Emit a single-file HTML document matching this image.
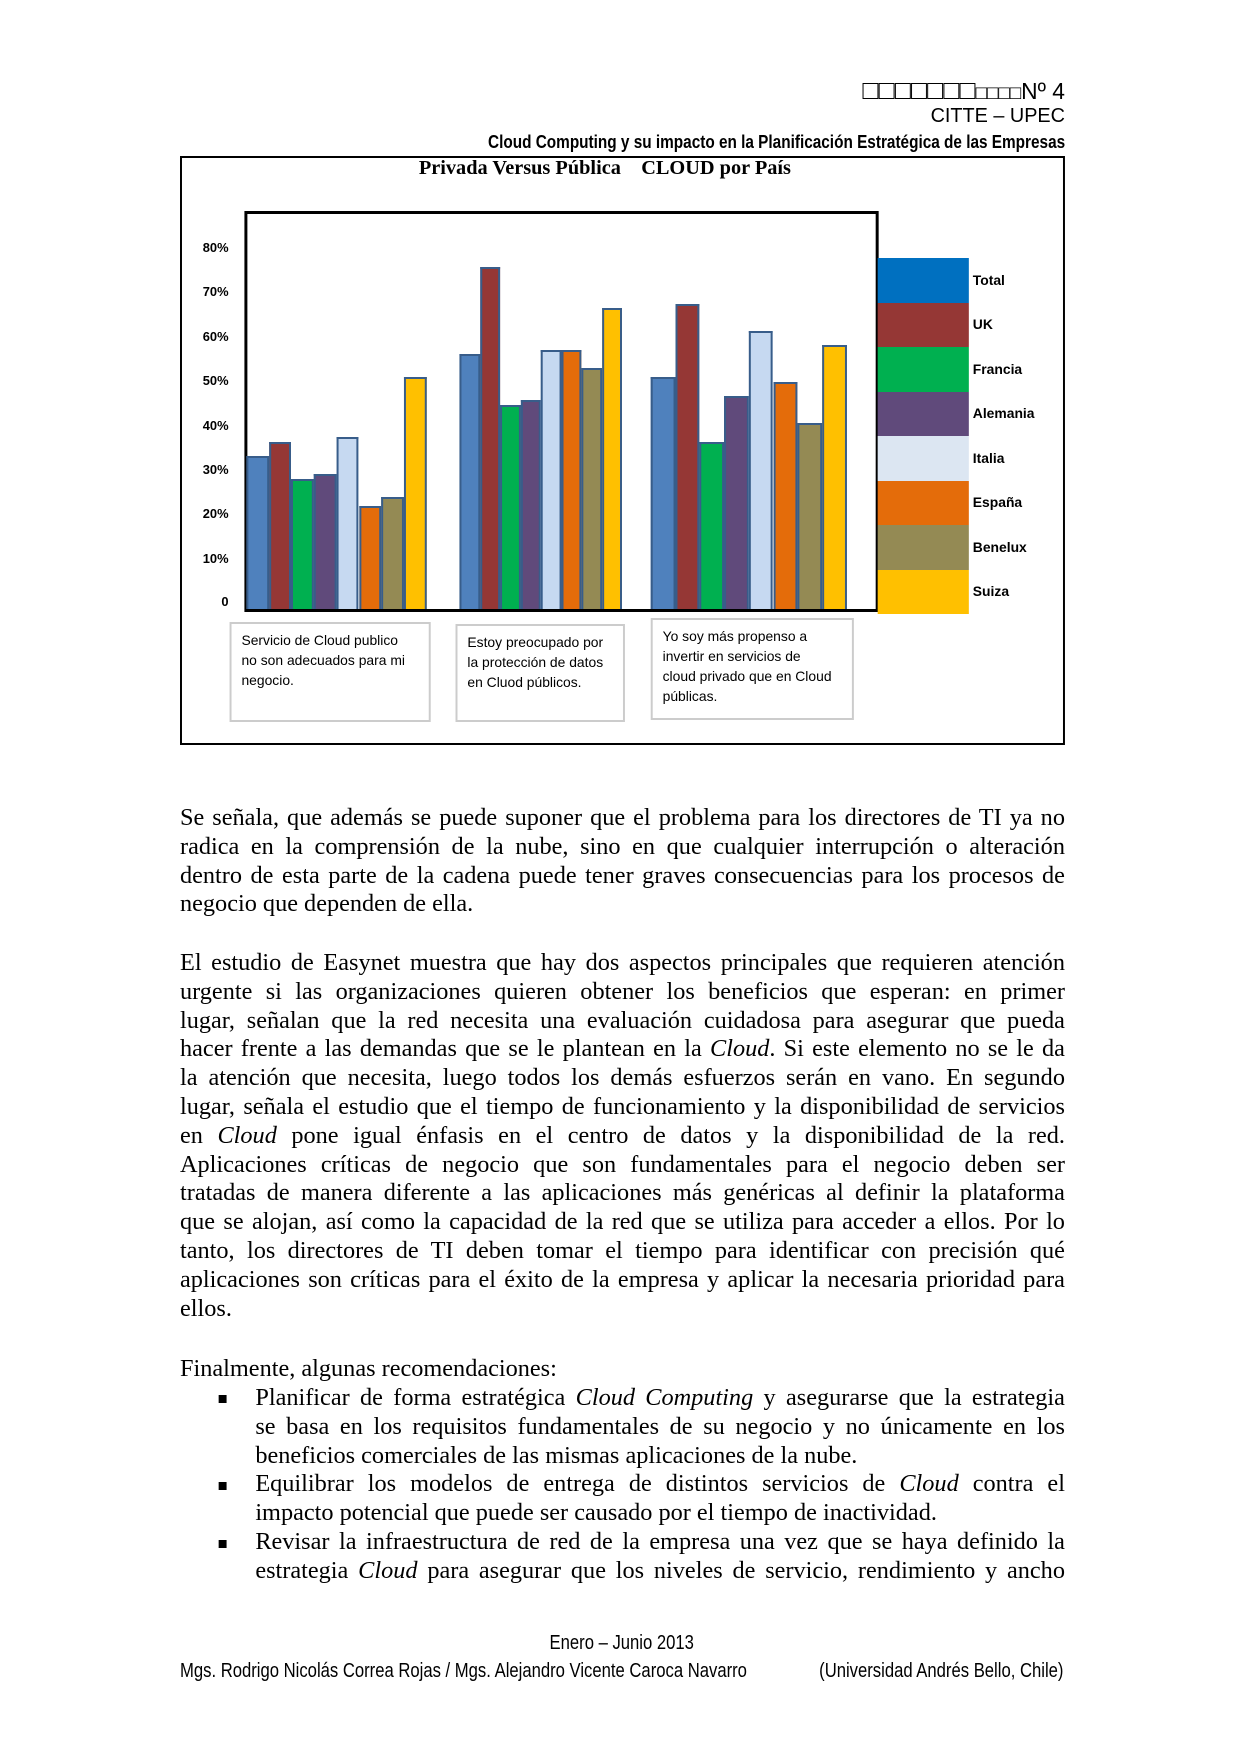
<!DOCTYPE html>
<html><head><meta charset="utf-8"><style>
body{margin:0;width:1240px;height:1754px;background:#fff;position:relative;overflow:hidden;font-family:"Liberation Serif",serif;color:#000}
#w{position:absolute;left:0;top:0;width:1240px;height:1754px;transform:scaleX(0.991);transform-origin:180px 0}
.a{position:absolute}
.hd{right:167px;font-family:"Liberation Sans",sans-serif;white-space:nowrap;text-align:right}
.nar{font-family:"Liberation Sans Narrow","Liberation Sans",sans-serif}
.bar{position:absolute;box-sizing:border-box;border:2.5px solid #385d8a;border-bottom:none}
.lg{position:absolute;left:884px;width:92px;height:44.5px}
.ll{position:absolute;left:980px;font:bold 14px "Liberation Sans",sans-serif}
.yl{position:absolute;left:190px;width:39px;text-align:right;font:bold 13px "Liberation Sans",sans-serif}
.tb{position:absolute;border:2px solid #ccc;box-sizing:border-box;font:14px/20px "Liberation Sans",sans-serif;padding:6px 10px;white-space:nowrap}
.p{position:absolute;left:180px;width:893px;font-size:24.5px;line-height:28.8px}
.p div{text-align:justify;text-align-last:justify;white-space:nowrap}
.p div.l{text-align-last:left}
</style></head><body><div id="w">
<div class="a hd" style="top:75px;font-size:23px"><span style="font-size:27px">□□□□□□□</span><span style="font-size:19px">□□□□</span>Nº 4</div>
<div class="a hd" style="top:105px;font-size:20px">CITTE – UPEC</div>
<div class="a hd nar" style="top:132px;font-size:18px;font-weight:bold;transform:scaleX(0.86);transform-origin:right center">Cloud Computing y su impacto en la Planificación Estratégica de las Empresas</div>

<div class="a" style="left:180px;top:156px;width:893px;height:589px;border:2px solid #000;box-sizing:border-box"></div>
<div class="a" style="left:421px;top:157px;font-size:20.5px;font-weight:bold;white-space:pre">Privada Versus Pública    CLOUD por País</div>
<div class="a" style="left:245px;top:211px;width:640px;height:401px;border:3px solid #000;box-sizing:border-box"></div>

<div class="yl" style="top:240px">80%</div>
<div class="yl" style="top:284px">70%</div>
<div class="yl" style="top:329px">60%</div>
<div class="yl" style="top:373px">50%</div>
<div class="yl" style="top:418px">40%</div>
<div class="yl" style="top:462px">30%</div>
<div class="yl" style="top:506px">20%</div>
<div class="yl" style="top:551px">10%</div>
<div class="yl" style="top:594px">0</div>

<div id="bars"></div>
<script>
var cols=["#4f81bd","#953735","#00b050","#604a7b","#c6d9f1","#e46c0a","#948a54","#ffc000"];
var g=[[247,22.7,[34,37,29,30,38,23,25,51]],[462,20.5,[56,75,45,46,57,57,53,66]],[655,24.7,[51,67,37,47,61,50,41,58]]];
var h="",B=609;
g.forEach(function(G){G[2].forEach(function(v,i){var t=B-v*4.6+3;h+='<div class="bar" style="left:'+(G[0]+i*G[1]).toFixed(1)+'px;top:'+t.toFixed(1)+'px;width:'+G[1]+'px;height:'+(B-t).toFixed(1)+'px;background:'+cols[i]+'"></div>';});});
document.getElementById("bars").innerHTML=h;
</script>

<div class="lg" style="top:258px;background:#0070c0"></div><div class="ll" style="top:272px">Total</div>
<div class="lg" style="top:302.5px;background:#953735"></div><div class="ll" style="top:316px">UK</div>
<div class="lg" style="top:347px;background:#00b050"></div><div class="ll" style="top:361px">Francia</div>
<div class="lg" style="top:391.5px;background:#604a7b"></div><div class="ll" style="top:405px">Alemania</div>
<div class="lg" style="top:436px;background:#dce6f2"></div><div class="ll" style="top:450px">Italia</div>
<div class="lg" style="top:480.5px;background:#e46c0a"></div><div class="ll" style="top:494px">España</div>
<div class="lg" style="top:525px;background:#948a54"></div><div class="ll" style="top:539px">Benelux</div>
<div class="lg" style="top:569.5px;background:#ffc000"></div><div class="ll" style="top:583px">Suiza</div>

<div class="tb" style="left:230px;top:622px;width:203px;height:100px">Servicio de Cloud publico<br>no son adecuados para mi<br>negocio.</div>
<div class="tb" style="left:458px;top:624px;width:171px;height:98px">Estoy preocupado por<br>la protección de datos<br>en Cluod públicos.</div>
<div class="tb" style="left:655px;top:618px;width:205px;height:102px">Yo soy más propenso a<br>invertir en servicios de<br>cloud privado que en Cloud<br>públicas.</div>

<div class="p" style="top:804px">
<div>Se señala, que además se puede suponer que el problema para los directores de TI ya no</div>
<div>radica en la comprensión de la nube, sino en que cualquier interrupción o alteración</div>
<div>dentro de esta parte de la cadena puede tener graves consecuencias para los procesos de</div>
<div class="l">negocio que dependen de ella.</div>
</div>
<div class="p" style="top:949px">
<div>El estudio de Easynet muestra que hay dos aspectos principales que requieren atención</div>
<div>urgente si las organizaciones quieren obtener los beneficios que esperan: en primer</div>
<div>lugar, señalan que la red necesita una evaluación cuidadosa para asegurar que pueda</div>
<div>hacer frente a las demandas que se le plantean en la <i>Cloud</i>. Si este elemento no se le da</div>
<div>la atención que necesita, luego todos los demás esfuerzos serán en vano. En segundo</div>
<div>lugar, señala el estudio que el tiempo de funcionamiento y la disponibilidad de servicios</div>
<div>en <i>Cloud</i> pone igual énfasis en el centro de datos y la disponibilidad de la red.</div>
<div>Aplicaciones críticas de negocio que son fundamentales para el negocio deben ser</div>
<div>tratadas de manera diferente a las aplicaciones más genéricas al definir la plataforma</div>
<div>que se alojan, así como la capacidad de la red que se utiliza para acceder a ellos. Por lo</div>
<div>tanto, los directores de TI deben tomar el tiempo para identificar con precisión qué</div>
<div>aplicaciones son críticas para el éxito de la empresa y aplicar la necesaria prioridad para</div>
<div class="l">ellos.</div>
</div>
<div class="p" style="top:1355px"><div class="l">Finalmente, algunas recomendaciones:</div></div>
<div class="p" style="top:1384px;left:256px;width:817px">
<div>Planificar de forma estratégica <i>Cloud Computing</i> y asegurarse que la estrategia</div>
<div>se basa en los requisitos fundamentales de su negocio y no únicamente en los</div>
<div class="l">beneficios comerciales de las mismas aplicaciones de la nube.</div>
<div>Equilibrar los modelos de entrega de distintos servicios de <i>Cloud</i> contra el</div>
<div class="l">impacto potencial que puede ser causado por el tiempo de inactividad.</div>
<div>Revisar la infraestructura de red de la empresa una vez que se haya definido la</div>
<div>estrategia <i>Cloud</i> para asegurar que los niveles de servicio, rendimiento y ancho</div>
</div>
<div class="a" style="left:219px;top:1395px;width:8px;height:8px;background:#000"></div>
<div class="a" style="left:219px;top:1482px;width:8px;height:8px;background:#000"></div>
<div class="a" style="left:219px;top:1540px;width:8px;height:8px;background:#000"></div>

<div class="a nar" style="left:0;width:1252px;text-align:center;top:1632px;font-size:20px"><span style="display:inline-block;transform:scaleX(0.84)">Enero – Junio 2013</span></div>
<div class="a nar" style="left:180px;top:1660px;font-size:20px;white-space:nowrap;transform:scaleX(0.84);transform-origin:left center">Mgs. Rodrigo Nicolás Correa Rojas / Mgs. Alejandro Vicente Caroca Navarro</div>
<div class="a nar" style="right:169px;top:1660px;font-size:20px;white-space:nowrap;transform:scaleX(0.84);transform-origin:right center">(Universidad Andrés Bello, Chile)</div>
</div></body></html>
